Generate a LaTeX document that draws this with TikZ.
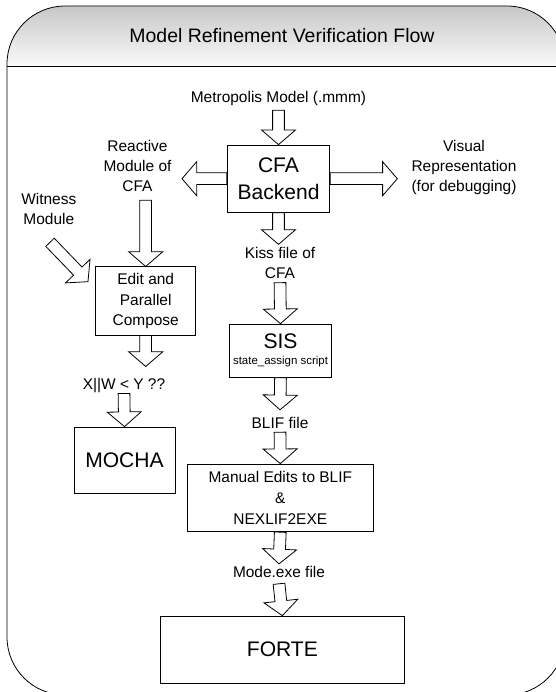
\documentclass[tikz,border=0pt]{standalone}
\usepackage{fontspec}
\setmainfont{Liberation Sans}
\usetikzlibrary{calc}

\newcommand{\fsz}[2]{\fontsize{#1}{#2}\selectfont}

\begin{document}
\begin{tikzpicture}[x=0.75pt, y=-0.75pt,
  box/.style={draw, line width=0.6pt, fill=white, align=center, inner sep=0pt},
  lbl/.style={align=center, inner sep=0pt, font=\fsz{11.6}{15}},
  big/.style={font=\fsz{15.8}{20}},
  blockarrow/.style={draw, fill=white, line width=0.6pt, line join=miter, to path={
    ($(\tikztostart)!4.4pt!-90:(\tikztotarget)$)
    -- ($(\tikztotarget)!11pt!(\tikztostart)!4.4pt!90:(\tikztostart)$)
    -- ($(\tikztotarget)!11pt!(\tikztostart)!12.75pt!90:(\tikztostart)$)
    -- (\tikztotarget)
    -- ($(\tikztotarget)!11pt!(\tikztostart)!12.75pt!-90:(\tikztostart)$)
    -- ($(\tikztotarget)!11pt!(\tikztostart)!4.4pt!-90:(\tikztostart)$)
    -- ($(\tikztostart)!4.4pt!90:(\tikztotarget)$)
    -- cycle}}]
  \useasboundingbox (0,0) rectangle (556,692);
  \clip (0,0) rectangle (556,692);

  % frame with shaded title band
  \begin{scope}
    \clip[rounded corners=43.5pt] (7,6) rectangle (565,695);
    \shade[top color=black!22, bottom color=black!2] (7,6) rectangle (565,66);
  \end{scope}
  \draw[line width=0.6pt, rounded corners=43.5pt] (7,6) rectangle (565,695);
  \draw[line width=0.6pt] (7,66) -- (565,66);
  \node (title) at (282,36) {\fsz{14.6}{18}Model Refinement Verification Flow};

  % boxes and labels
  \node[lbl] (meta) at (278.5,99) {Metropolis Model (.mmm)};
  \node[box, big, minimum width=77pt, minimum height=50.5pt] (cfa) at (278.5,178.7) {CFA\\Backend};
  \node[lbl] (reactive) at (137.5,166) {Reactive\\Module of\\CFA};
  \node[lbl] (visual) at (464,167) {Visual\\Representation\\(for debugging)};
  \node[lbl] (witness) at (48.8,209) {Witness\\Module};
  \node[lbl] (kiss) at (280,263) {Kiss file of\\CFA};
  \node[box, lbl, font=\fsz{11.6}{15.6}, minimum width=75pt, minimum height=51.2pt] (edit) at (145.7,301) {Edit and\\Parallel\\Compose};
  \node[box, minimum width=76.8pt, minimum height=40pt] (sis) at (280.5,350.7) {\fsz{15.8}{13}SIS\\\fsz{8.6}{13}state\_assign script};
  \node[lbl] (xw) at (124,386) {X||W < Y ??};
  \node[box, big, minimum width=75.75pt, minimum height=49.5pt] (mocha) at (124.5,460) {MOCHA};
  \node[lbl] (blif) at (280,423.3) {BLIF file};
  \node[box, lbl, font=\fsz{11.6}{15.4}, minimum width=139.5pt, minimum height=50.8pt] (manual) at (280.3,497.9) {Manual Edits to BLIF\\\&\\NEXLIF2EXE};
  \node[lbl] (mode) at (279,571.7) {Mode.exe file};
  \node[box, big, minimum width=183.5pt, minimum height=50.5pt] (forte) at (282.4,649.7) {FORTE};

  % block arrows
  \draw[blockarrow] ([yshift=-2.9pt]meta.south) to (cfa.north);
  \draw[blockarrow] (cfa.west) to ([xshift=7.7pt]cfa.west -| reactive.east);
  \draw[blockarrow] (cfa.east) to ([xshift=-10.5pt]cfa.east -| visual.west);
  \draw[blockarrow] (cfa.south) to ([yshift=2pt]cfa.south |- kiss.north);
  \draw[blockarrow] ([yshift=-2.8pt]kiss.south) to (sis.north);
  \draw[blockarrow] (sis.south) to ([yshift=5.7pt]blif.north);
  \draw[blockarrow] ([yshift=-2.2pt]blif.south) to (manual.north);
  \draw[blockarrow] (manual.south) to ([yshift=1.4pt]mode.north);
  \draw[blockarrow] ([yshift=-4.6pt]mode.south) to (forte.north);
  \draw[blockarrow] ([yshift=-6.3pt]edit.north |- reactive.south) to (edit.north);
  \draw[blockarrow] ([xshift=0.9pt,yshift=-13pt]witness.south) to ([xshift=-5.5pt,yshift=14.5pt]edit.west);
  \draw[blockarrow] (edit.south) to ([yshift=9pt]edit.south |- xw.north);
  \draw[blockarrow] (xw.south) to (mocha.north);
\end{tikzpicture}
\end{document}
